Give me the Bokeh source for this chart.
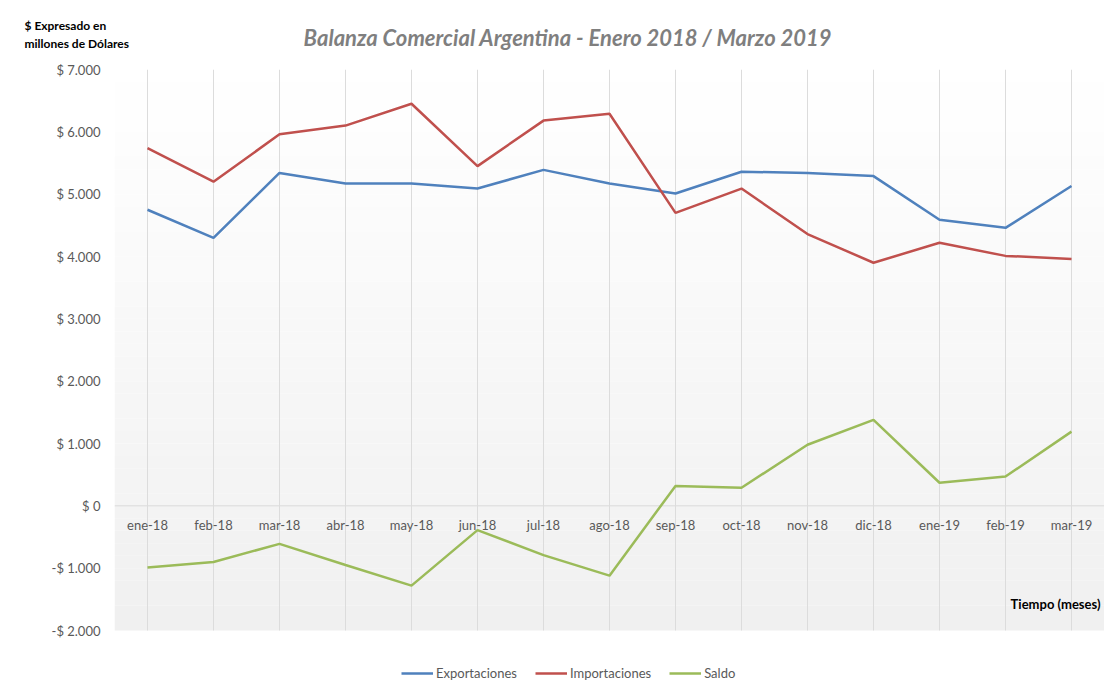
from bokeh.plotting import figure
from bokeh.layouts import column
from bokeh.core.properties import value
from bokeh.models import (FactorRange, Range1d, FixedTicker, Label, LabelSet, Legend,
                          LegendItem, BoxAnnotation, Span, ColumnDataSource)
from bokeh.embed import file_html
from bokeh.resources import INLINE

meses = ["ene-18", "feb-18", "mar-18", "abr-18", "may-18", "jun-18", "jul-18",
         "ago-18", "sep-18", "oct-18", "nov-18", "dic-18", "ene-19", "feb-19", "mar-19"]
exportaciones = [4750, 4300, 5340, 5170, 5170, 5090, 5390, 5170, 5010, 5360, 5340, 5290, 4590, 4460, 5130]
importaciones = [5740, 5200, 5960, 6100, 6450, 5450, 6180, 6290, 4700, 5090, 4360, 3900, 4220, 4010, 3960]
saldo = [-990, -900, -610, -950, -1280, -390, -790, -1120, 320, 290, 980, 1380, 370, 470, 1190]

y_ticks = [-2000, -1000, 0, 1000, 2000, 3000, 4000, 5000, 6000, 7000]
y_labels = ["-$ 2.000", "-$ 1.000", "$ 0", "$ 1.000", "$ 2.000", "$ 3.000",
            "$ 4.000", "$ 5.000", "$ 6.000", "$ 7.000"]
Y_MIN, Y_MAX = -2000, 7000

FONT = "Lato"
GRAY = "#595959"
W = 1104
HEAD = 56
FW = 990
PLOT_H = 561                      # height of the shaded plot area
LEG_H = 57                        # strip under the plot area that holds the legend
FH = PLOT_H + LEG_H
y_low = Y_MIN - LEG_H * (Y_MAX - Y_MIN) / PLOT_H

# ---------- header (title and y-axis caption) ----------
h = figure(width=W, height=HEAD, x_range=Range1d(0, W), y_range=Range1d(0, HEAD),
           x_axis_location=None, y_axis_location=None,
           output_backend="svg", toolbar_location=None,
           min_border_left=0, min_border_right=0, min_border_top=0, min_border_bottom=0)
h.frame_align = False
h.grid.visible = False
h.outline_line_color = None
h.add_layout(Label(x=577, y=HEAD - 37,
                   text="Balanza  Comercial  Argentina  - Enero  2018 / Marzo 2019",
                   text_align="center", text_baseline="middle", text_font=FONT,
                   text_font_style="bold italic", text_font_size="22px", text_color="#7f7f7f"))
h.add_layout(Label(x=24, y=HEAD - 17,
                   text="$ Expresado en\nmillones de Dólares",
                   text_align="left", text_baseline="top", text_font=FONT,
                   text_font_style="bold", text_font_size="12px", text_color="#000000"))

# ---------- main chart ----------
p = figure(x_range=FactorRange(*meses), y_range=Range1d(y_low, Y_MAX),
           x_axis_location=None,
           frame_width=FW, frame_height=FH, output_backend="svg", toolbar_location=None,
           min_border_left=114, min_border_right=0, min_border_top=69 - HEAD,
           min_border_bottom=0)
p.frame_align = False
p.outline_line_color = None
p.background_fill_color = "#ffffff"
p.grid.visible = False

n = 45
step = (Y_MAX - Y_MIN) / n
for i in range(n):
    t = (i + 0.5) / n
    c = int(round(255 - t * (255 - 240)))
    col = "#%02x%02x%02x" % (c, c, c)
    p.add_layout(BoxAnnotation(top=Y_MAX - i * step, bottom=Y_MAX - (i + 1) * step,
                               fill_color=col, fill_alpha=1.0, line_color=None,
                               level="image"))

# vertical grid lines at each month, spanning the plot area
p.segment(x0=meses, y0=[Y_MIN] * len(meses), x1=meses, y1=[Y_MAX] * len(meses),
          line_color="#dcdcdc", line_width=1)

# category axis drawn at y = 0 (labels below the zero line)
p.add_layout(Span(location=0, dimension="width", line_color="#d9d9d9", line_width=1,
                  level="underlay"))
cat_src = ColumnDataSource(dict(x=meses, y=[0] * len(meses)))
p.add_layout(LabelSet(x="x", y="y", text="x", source=cat_src, y_offset=-11,
                      text_align="center", text_baseline="top", text_font=value(FONT),
                      text_font_size=value("13px"), text_color=GRAY))

p.yaxis.ticker = FixedTicker(ticks=y_ticks)
p.yaxis.major_label_overrides = {t: l for t, l in zip(y_ticks, y_labels)}
p.yaxis.axis_line_color = None
p.yaxis.major_tick_line_color = None
p.yaxis.minor_tick_line_color = None
p.yaxis.major_tick_out = 0
p.yaxis.major_label_standoff = 14
p.yaxis.major_label_text_font = FONT
p.yaxis.major_label_text_font_size = "13px"
p.yaxis.major_label_text_color = GRAY

r1 = p.line(meses, exportaciones, line_color="#4f81bd", line_width=2.5)
r2 = p.line(meses, importaciones, line_color="#c0504d", line_width=2.5)
r3 = p.line(meses, saldo, line_color="#9bbb59", line_width=2.5)

legend = Legend(items=[LegendItem(label="Exportaciones", renderers=[r1]),
                       LegendItem(label="Importaciones", renderers=[r2]),
                       LegendItem(label="Saldo", renderers=[r3])],
                orientation="horizontal", location=(287, 6),
                border_line_color=None, background_fill_alpha=0,
                glyph_width=32, glyph_height=14, label_standoff=3, spacing=18,
                label_text_font=FONT, label_text_font_size="13px",
                label_text_color=GRAY, margin=0, padding=0)
p.add_layout(legend, "center")

p.add_layout(Label(x=15, y=Y_MIN, x_offset=-4, y_offset=27, text="Tiempo (meses)",
                   text_align="right", text_baseline="middle", text_font=FONT,
                   text_font_style="bold", text_font_size="13px", text_color="#000000"))

open("out.html", "w").write(file_html(column(h, p, spacing=0), INLINE))
